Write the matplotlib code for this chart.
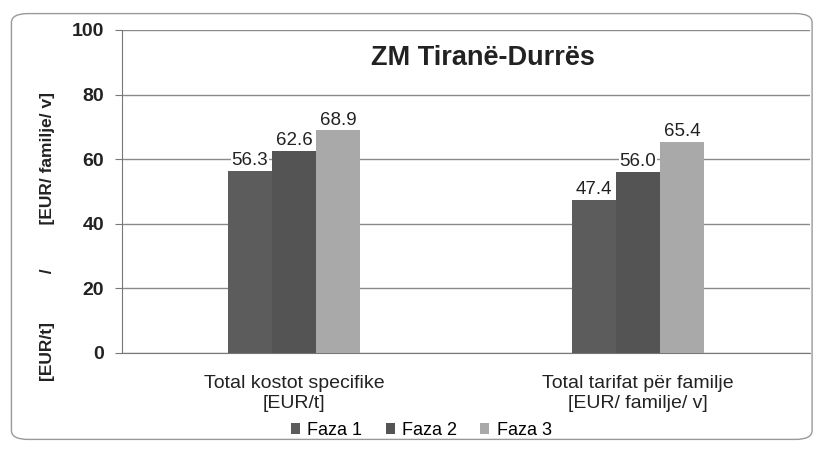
import matplotlib.pyplot as plt
import numpy as np
from matplotlib.patches import FancyBboxPatch

plt.rcParams['font.family'] = ['Liberation Sans', 'DejaVu Sans']

categories = ['Total kostot specifike\n[EUR/t]', 'Total tarifat për familje\n[EUR/ familje/ v]']
series = ['Faza 1', 'Faza 2', 'Faza 3']
faza1 = [56.3, 47.4]
faza2 = [62.6, 56.0]
faza3 = [68.9, 65.4]
colors = ['#5c5c5c', '#545454', '#a9a9a9']

fig = plt.figure(figsize=(8.17, 4.53), dpi=100)
ax = fig.add_axes([0.1493, 0.2208, 0.8421, 0.713])

# rounded frame around the whole chart
frame = FancyBboxPatch((0.014, 0.03), 0.98, 0.94, boxstyle="round,pad=0,rounding_size=0.02",
                       transform=fig.transFigure, facecolor='none', edgecolor='#999999',
                       linewidth=1.0, zorder=0)
fig.patches.append(frame)

x = np.arange(len(categories))
w = 0.128
for i, (vals, name) in enumerate(zip([faza1, faza2, faza3], series)):
    pos = x + (i - 1) * w
    ax.bar(pos, vals, width=w, color=colors[i], label=name, zorder=3)
    for xp, v in zip(pos, vals):
        ax.text(xp, v + 0.6, f'{v:.1f}', ha='center', va='bottom', fontsize=13.5,
                color='#222222', zorder=4,
                bbox=dict(facecolor='white', edgecolor='none', pad=0.3))

ax.set_xlim(-0.5, 1.5)
ax.set_ylim(0, 100)
ax.set_yticks(range(0, 101, 20))
ax.yaxis.grid(True, color='#8a8a8a', linewidth=1.0, zorder=0)
ax.set_axisbelow(True)
for s in ['top', 'right']:
    ax.spines[s].set_visible(False)
ax.spines['left'].set_color('#777777')
ax.spines['bottom'].set_color('#777777')
ax.tick_params(axis='y', length=5, color='#777777', labelsize=14, pad=8, labelcolor='#222222')
ax.tick_params(axis='x', length=0, labelsize=14, pad=16, labelcolor='#222222')
ax.set_xticks(x)
ax.set_xticklabels(categories, linespacing=1.2)
for lbl in ax.get_yticklabels():
    lbl.set_fontweight('bold')

ax.set_ylabel('[EUR/t]          /         [EUR/ familje/ v]', fontsize=12.5,
              fontweight='bold', color='#222222')
ax.yaxis.set_label_coords(-0.097, 0.36)
ax.set_title('ZM Tiranë-Durrës', fontsize=19.5, fontweight='bold', color='#222222',
             y=0.865, x=0.525)

ax.legend(loc='center', bbox_to_anchor=(0.435, -0.24), ncol=3, frameon=False,
          fontsize=13, handlelength=0.5, handleheight=0.5, handletextpad=0.4,
          columnspacing=1.3, borderpad=0)

fig.savefig('out.png', dpi=100)
